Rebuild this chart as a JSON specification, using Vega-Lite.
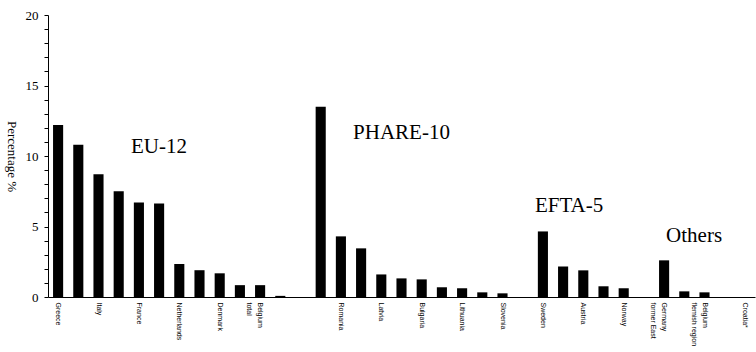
{
  "$schema": "https://vega.github.io/schema/vega-lite/v6.json",
  "width": 707,
  "height": 282,
  "autosize": {"type": "none"},
  "padding": {"left": 48, "top": 15, "right": 1, "bottom": 55},
  "background": "white",
  "config": {
    "font": "Liberation Serif",
    "view": {"stroke": null},
    "axis": {"grid": false, "domainColor": "black", "tickColor": "black", "labelColor": "black", "titleColor": "black", "domainWidth": 1}
  },
  "datasets": {
    "bars": [
      {"country": "Greece", "value": 12.2},
      {"country": "_1", "value": 10.8},
      {"country": "Italy", "value": 8.7},
      {"country": "_2", "value": 7.5},
      {"country": "France", "value": 6.7},
      {"country": "_3", "value": 6.63},
      {"country": "Netherlands", "value": 2.34},
      {"country": "_4", "value": 1.9},
      {"country": "Denmark", "value": 1.68},
      {"country": "_5", "value": 0.84},
      {"country": "Belgium|total", "value": 0.84},
      {"country": "_6", "value": 0.08},
      {"country": "_7", "value": null},
      {"country": "_8", "value": 13.5},
      {"country": "Romania", "value": 4.3},
      {"country": "_9", "value": 3.45},
      {"country": "Latvia", "value": 1.6},
      {"country": "_10", "value": 1.32},
      {"country": "Bulgaria", "value": 1.25},
      {"country": "_11", "value": 0.69},
      {"country": "Lithuania", "value": 0.62},
      {"country": "_12", "value": 0.33},
      {"country": "Slovenia", "value": 0.26},
      {"country": "_13", "value": null},
      {"country": "Sweden", "value": 4.65},
      {"country": "_14", "value": 2.17},
      {"country": "Austria", "value": 1.89},
      {"country": "_15", "value": 0.76},
      {"country": "Norway", "value": 0.62},
      {"country": "_16", "value": null},
      {"country": "Germany|former East", "value": 2.6},
      {"country": "_17", "value": 0.4},
      {"country": "Belgium|flemish region", "value": 0.33},
      {"country": "_18", "value": null},
      {"country": "Croatia*", "value": 0}
    ],
    "notes": [
      {"country": "France", "value": 10.2, "note": "EU-12"},
      {"country": "_9", "value": 11.2, "note": "PHARE-10"},
      {"country": "Sweden", "value": 6.03, "note": "EFTA-5"}
    ],
    "notes2": [
      {"country": "Germany|former East", "value": 3.9, "note": "Others"}
    ]
  },
  "encoding": {
    "x": {
      "field": "country", "type": "nominal", "sort": null,
      "scale": {"paddingInner": 0.5, "paddingOuter": 0.25},
      "axis": {
        "title": null, "ticks": false, "labelAngle": 90,
        "labelFont": "Liberation Sans", "labelFontSize": 7,
        "labelPadding": 5, "labelLineHeight": 11, "labelOverlap": false,
        "labelExpr": "indexof(datum.label, '_') === 0 ? '' : split(datum.label, '|')"
      }
    },
    "y": {
      "field": "value", "type": "quantitative",
      "scale": {"domain": [0, 20], "nice": false},
      "axis": {
        "title": "Percentage %", "titleAngle": 90, "titleFont": "Liberation Serif",
        "titleFontSize": 13, "titleFontWeight": "normal",
        "titleX": -37, "titleY": 141, "titleAlign": "center", "titleBaseline": "middle",
        "values": [0,1,2,3,4,5,6,7,8,9,10,11,12,13,14,15,16,17,18,19,20],
        "labelExpr": "datum.value % 5 === 0 ? datum.label : ''",
        "labelOverlap": false, "labelFlush": false, "ticks": true,
        "tickSize": 4, "tickWidth": 1, "labelFont": "Liberation Serif", "labelFontSize": 13,
        "labelPadding": 6
      }
    }
  },
  "layer": [
    {
      "data": {"name": "bars"},
      "mark": {"type": "bar", "color": "black", "invalid": "show"}
    },
    {
      "data": {"name": "notes"},
      "mark": {"type": "text", "font": "Liberation Serif", "fontSize": 21, "align": "left", "baseline": "alphabetic", "dx": -8, "color": "black"},
      "encoding": {"text": {"field": "note"}}
    },
    {
      "data": {"name": "notes2"},
      "mark": {"type": "text", "font": "Liberation Serif", "fontSize": 21, "align": "left", "baseline": "alphabetic", "dx": 2, "color": "black"},
      "encoding": {"text": {"field": "note"}}
    }
  ]
}
